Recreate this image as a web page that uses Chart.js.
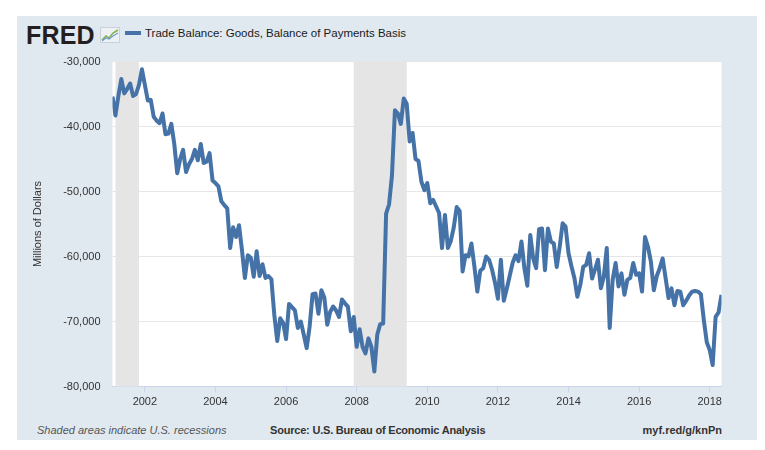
<!DOCTYPE html>
<html>
<head>
<meta charset="utf-8">
<script src="https://cdn.jsdelivr.net/npm/chart.js@4.4.1/dist/chart.umd.min.js"></script>
<style>
  html, body { margin: 0; padding: 0; background: #fff; }
  body { width: 765px; height: 450px; position: relative; overflow: hidden;
         font-family: "Liberation Sans", Arial, sans-serif; }
  #panel { position: absolute; left: 17px; top: 16px; width: 740px; height: 424px; background: #e1e9f0; }
  #wrap { position: absolute; left: 0; top: 0; width: 765px; height: 450px; }
  .txt { position: absolute; white-space: nowrap; line-height: 14px; }
  #logo { left: 26px; top: 22px; font-size: 25px; line-height: 26px; font-weight: bold; letter-spacing: 0.2px; color: #231f20; }
  #icon { position: absolute; left: 100px; top: 27px; }
  #legline { position: absolute; left: 125px; top: 31px; width: 16px; height: 4px; background: #4572a7; }
  #legtext { left: 145px; top: 26px; font-size: 11.5px; color: #1a1a1a; }
  #note { left: 37px; top: 423px; font-size: 11px; font-style: italic; color: #555; }
  #source { left: 270px; top: 423px; font-size: 11px; font-weight: bold; letter-spacing: -0.2px; color: #333; }
  #link { right: 43px; top: 423px; font-size: 11px; font-weight: bold; color: #333; }
</style>
</head>
<body>
<div id="panel"></div>
<div class="txt" id="logo">FRED</div>
<svg id="icon" width="20" height="16" viewBox="0 0 20 16">
  <rect x="0.5" y="0.5" width="19" height="15" fill="#eef1f4" stroke="#c9d2da"/>
  <polyline points="2,13 6,9 9,11 13,6 18,3" fill="none" stroke="#7fb24c" stroke-width="1.5"/>
  <polyline points="2,14 6,11 9,12 13,9 18,6" fill="none" stroke="#6e9fd0" stroke-width="1.2"/>
</svg>
<div id="legline"></div>
<div class="txt" id="legtext">Trade Balance: Goods, Balance of Payments Basis</div>
<div class="txt" id="note">Shaded areas indicate U.S. recessions</div>
<div class="txt" id="source">Source: U.S. Bureau of Economic Analysis</div>
<div class="txt" id="link">myf.red/g/knPn</div>
<div id="wrap"><canvas id="chart" width="765" height="450"></canvas></div>
<script>
// monthly series, Feb 2001 .. May 2018, millions of dollars
const firstYear = 2001;
const firstMonth = 2;
const tradeBalance = [
  // 2001 (Feb-Dec)
  -35400, -38300, -35300, -32700, -34900, -34200, -33400, -35300, -35000, -33600, -31200,
  // 2002
  -33600, -36000, -35900, -38500, -39100, -39500, -38000, -41200, -41100, -39600, -42700, -47200,
  // 2003
  -45000, -43600, -47000, -45800, -45000, -43600, -45200, -42700, -45600, -45400, -44100, -48300,
  // 2004
  -48700, -49200, -51500, -52100, -52600, -58700, -55500, -57000, -55200, -59000, -63300, -59800,
  // 2005
  -60200, -63100, -59200, -63000, -61200, -63300, -63000, -63500, -69000, -73000, -69500, -70200,
  // 2006
  -72700, -67300, -67800, -68300, -71000, -70000, -72000, -74100, -70800, -65800, -65700, -68800,
  // 2007
  -65200, -66300, -70500, -68500, -67700, -68300, -69300, -66600, -67200, -67700, -71500, -69300,
  // 2008
  -73900, -71200, -73900, -74900, -72600, -73900, -77700, -72000, -70400, -70300, -53400, -52000,
  // 2009
  -47500, -37500, -38000, -39600, -35700, -36500, -42300, -41000, -45000, -45300, -48500, -49800,
  // 2010
  -48700, -51800, -51300, -52300, -53300, -58700, -53600, -58700, -57600, -55500, -52400, -53000,
  // 2011
  -62300, -59800, -60000, -58000, -61500, -65400, -62200, -61800, -60000, -60500, -62000, -64000,
  // 2012
  -66500, -60500, -66800, -65000, -63000, -61000, -59800, -60700, -57700, -61800, -64500, -56700,
  // 2013
  -60300, -61800, -55800, -55700, -62100, -55700, -57700, -58000, -61600, -58500, -54900, -55400,
  // 2014
  -59500, -61500, -63300, -66200, -64400, -61600, -61300, -59500, -63400, -62000, -60500, -64900,
  // 2015
  -63100, -58700, -71000, -63600, -61000, -64600, -62600, -65900, -63600, -63300, -61000, -62800,
  // 2016
  -62600, -65400, -57000, -58500, -60800, -65200, -63000, -61800, -60300, -63300, -66400, -64900,
  // 2017
  -67500, -65300, -65400, -67500, -66800, -66000, -65400, -65300, -65400, -65800, -69800, -73200,
  // 2018 (Jan-May)
  -74400, -76700, -69300, -68600, -65900
];
const yTicks = [-80000, -70000, -60000, -50000, -40000, -30000];
const xTickYears = [2002, 2004, 2006, 2008, 2010, 2012, 2014, 2016, 2018];
// NBER recessions as [year, month] start/end
const recessions = [
  [[2001, 3], [2001, 11]],
  [[2007, 12], [2009, 6]]
];

const toYear = (y, m) => y + (m - 1) / 12;
const points = tradeBalance.map((v, i) => ({ x: toYear(firstYear, firstMonth + i), y: v }));

const fnt = { family: "'Liberation Sans', Arial, sans-serif", size: 11 };

const plotBg = {
  id: "plotBg",
  beforeDraw(chart) {
    const { ctx, chartArea: a } = chart;
    ctx.save();
    ctx.fillStyle = "#ffffff";
    ctx.fillRect(a.left, a.top, a.right - a.left, a.bottom - a.top);
    ctx.restore();
  }
};

const recessionShade = {
  id: "recessionShade",
  beforeDatasetsDraw(chart) {
    const { ctx, chartArea: a, scales: { x } } = chart;
    ctx.save();
    ctx.fillStyle = "#e5e5e5";
    recessions.forEach(([s, e]) => {
      const x0 = Math.max(a.left, x.getPixelForValue(toYear(s[0], s[1])));
      const x1 = Math.min(a.right, x.getPixelForValue(toYear(e[0], e[1])));
      ctx.fillRect(x0, a.top, x1 - x0, a.bottom - a.top);
    });
    ctx.restore();
  }
};

new Chart(document.getElementById("chart"), {
  type: "line",
  data: {
    datasets: [{
      label: "Trade Balance: Goods, Balance of Payments Basis",
      data: points,
      borderColor: "#4572a7",
      borderWidth: 4,
      borderJoinStyle: "round",
      borderCapStyle: "butt",
      pointRadius: 0,
      tension: 0,
      fill: false
    }]
  },
  options: {
    responsive: false,
    animation: false,
    layout: { padding: { left: 27, top: 61.5, right: 43.5, bottom: 33.5 } },
    plugins: { legend: { display: false }, tooltip: { enabled: false } },
    scales: {
      x: {
        type: "linear",
        min: points[0].x,
        max: points[points.length - 1].x,
        afterBuildTicks: (s) => { s.ticks = xTickYears.map(v => ({ value: v })); },
        afterFit: (s) => { s.height = 30; },
        grid: { drawOnChartArea: false, drawTicks: true, tickLength: 6, color: "#ccd6eb" },
        border: { color: "#ccd6eb" },
        ticks: {
          autoSkip: false, maxRotation: 0, padding: 3,
          color: "#333", font: fnt,
          callback: (v) => String(v)
        }
      },
      y: {
        min: yTicks[0],
        max: yTicks[yTicks.length - 1],
        afterBuildTicks: (s) => { s.ticks = yTicks.map(v => ({ value: v })); },
        afterFit: (s) => { s.width = 85.5; },
        grid: { color: "#e6e6e6", drawTicks: false },
        border: { display: false },
        ticks: {
          padding: 12, color: "#333", font: fnt,
          callback: (v) => v.toLocaleString("en-US")
        },
        title: {
          display: true, text: "Millions of Dollars",
          color: "#333", font: fnt, padding: { top: 4, bottom: 4 }
        }
      }
    }
  },
  plugins: [plotBg, recessionShade]
});
</script>
</body>
</html>
